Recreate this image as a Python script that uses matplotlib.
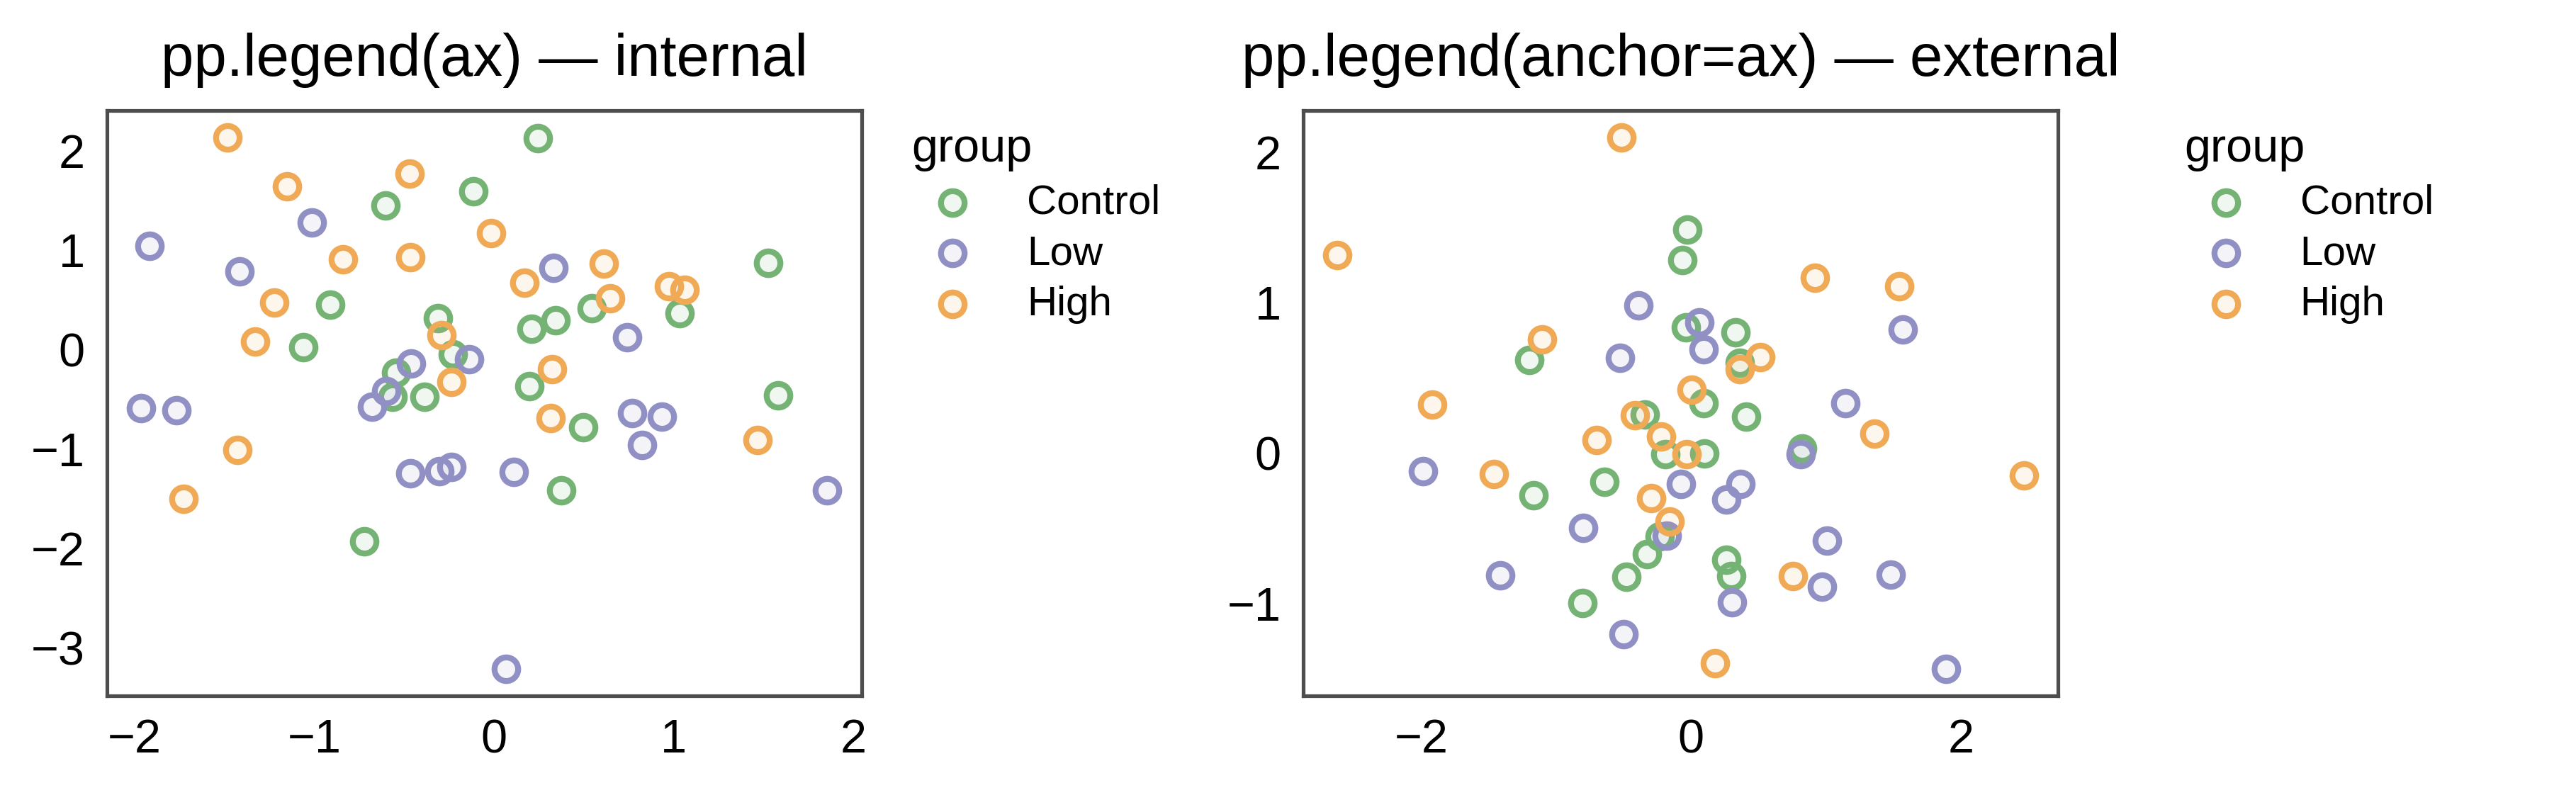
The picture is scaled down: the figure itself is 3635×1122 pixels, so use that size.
import numpy as np
import matplotlib as mpl
mpl.use("Agg")
import matplotlib.pyplot as plt
from matplotlib.ticker import MultipleLocator

plt.rcParams['font.family'] = ['Liberation Sans', 'DejaVu Sans']

groups = ["Control", "Low", "High"]
colors = ["#75b375", "#9090c4", "#f0aa56"]

# left panel (internal legend)
ctrl_x_int = [-0.115, -0.602, -0.909, -1.059, -0.310, -0.227, -0.545, -0.563, -0.386, -0.720,
              0.243, 1.525, 0.343, 0.208, 0.543, 1.033, 0.196, 0.497, 1.581, 0.376]
ctrl_y_int = [1.589, 1.446, 0.450, 0.017, 0.315, -0.051, -0.236, -0.477, -0.481, -1.936,
              2.124, 0.869, 0.288, 0.205, 0.409, 0.364, -0.375, -0.782, -0.466, -1.419]
low_x_int = [-1.916, -1.014, -1.414, -0.137, -0.462, -0.601, -0.678, -1.962, -1.765, -0.465,
             -0.302, -0.236, 0.331, 0.739, 0.767, 0.932, 0.822, 0.111, 1.854, 0.067]
low_y_int = [1.038, 1.272, 0.782, -0.104, -0.142, -0.420, -0.579, -0.590, -0.613, -1.246,
             -1.224, -1.186, 0.820, 0.122, -0.643, -0.681, -0.967, -1.231, -1.419, -3.218]
high_x_int = [-1.481, -1.153, -0.470, -0.840, -0.466, -1.222, -1.330, -0.292, -0.235, -1.426,
              -1.728, -0.015, 0.170, 0.610, 0.648, 0.975, 1.058, 0.324, 0.314, 1.466]
high_y_int = [2.132, 1.634, 1.766, 0.903, 0.922, 0.469, 0.077, 0.141, -0.326, -1.012,
              -1.506, 1.170, 0.669, 0.858, 0.511, 0.635, 0.598, -0.198, -0.696, -0.914]

# right panel (external legend)
ctrl_x_ext = [-1.198, -0.344, -0.191, -1.169, -0.644, -0.234, -0.327, -0.479, -0.808, -0.028,
              -0.067, -0.040, 0.330, 0.359, 0.094, 0.406, 0.097, 0.825, 0.259, 0.299]
ctrl_y_ext = [0.616, 0.252, -0.012, -0.283, -0.196, -0.557, -0.674, -0.824, -1.001, 1.480,
              1.281, 0.833, 0.798, 0.599, 0.330, 0.237, -0.007, 0.028, -0.712, -0.819]
low_x_ext = [-0.390, -0.528, -1.989, -0.802, -0.183, -1.418, -0.501, -0.077, 0.063, 0.092,
             1.569, 1.146, 0.814, 0.364, 0.262, 1.006, 1.482, 0.972, 0.305, 1.892]
low_y_ext = [0.980, 0.631, -0.124, -0.500, -0.552, -0.816, -1.207, -0.208, 0.863, 0.688,
             0.818, 0.330, -0.009, -0.208, -0.313, -0.584, -0.811, -0.891, -0.996, -1.439]
high_x_ext = [-0.515, -2.622, -1.107, -1.920, -0.702, -0.419, -0.220, -1.465, -0.298, -0.162,
              0.005, -0.031, 0.918, 1.542, 0.515, 0.363, 1.359, 2.467, 0.755, 0.178]
high_y_ext = [2.096, 1.311, 0.753, 0.317, 0.083, 0.250, 0.105, -0.141, -0.303, -0.460,
              0.419, -0.009, 1.164, 1.104, 0.636, 0.554, 0.125, -0.154, -0.821, -1.399]

titles = ["pp.legend(ax) \u2014 internal", "pp.legend(anchor=ax) \u2014 external"]


def draw(ax, data, title):
    for (x, y), name, c in zip(data, groups, colors):
        rgb = mpl.colors.to_rgb(c)
        ax.scatter(x, y, s=64, facecolors=[rgb + (0.1,)], edgecolors=c,
                   linewidths=2.0, label=name)
    for sp in ax.spines.values():
        sp.set_color("#4d4d4d")
        sp.set_linewidth(1.25)
    ax.tick_params(length=0, pad=7.5, labelsize=16)
    ax.set_title(title, fontsize=20, pad=12)


fig = plt.figure(figsize=(12.12, 3.7433), dpi=300)
ax1 = fig.add_axes([0.0415, 0.1247, 0.2929, 0.7355])
ax2 = fig.add_axes([0.5058, 0.1247, 0.2929, 0.7355])

draw(ax1, [(ctrl_x_int, ctrl_y_int), (low_x_int, low_y_int), (high_x_int, high_y_int)], titles[0])
draw(ax2, [(ctrl_x_ext, ctrl_y_ext), (low_x_ext, low_y_ext), (high_x_ext, high_y_ext)], titles[1])
ax2.xaxis.set_major_locator(MultipleLocator(2))

for ax, xa in [(ax1, 1.044), (ax2, 1.1455)]:
    leg = ax.legend(title="group", loc="upper left", bbox_to_anchor=(xa, 1.0),
                    borderaxespad=0, frameon=False, fontsize=14, title_fontsize=16,
                    labelspacing=0.3, alignment="left")

fig.savefig("out.png", dpi=300)
